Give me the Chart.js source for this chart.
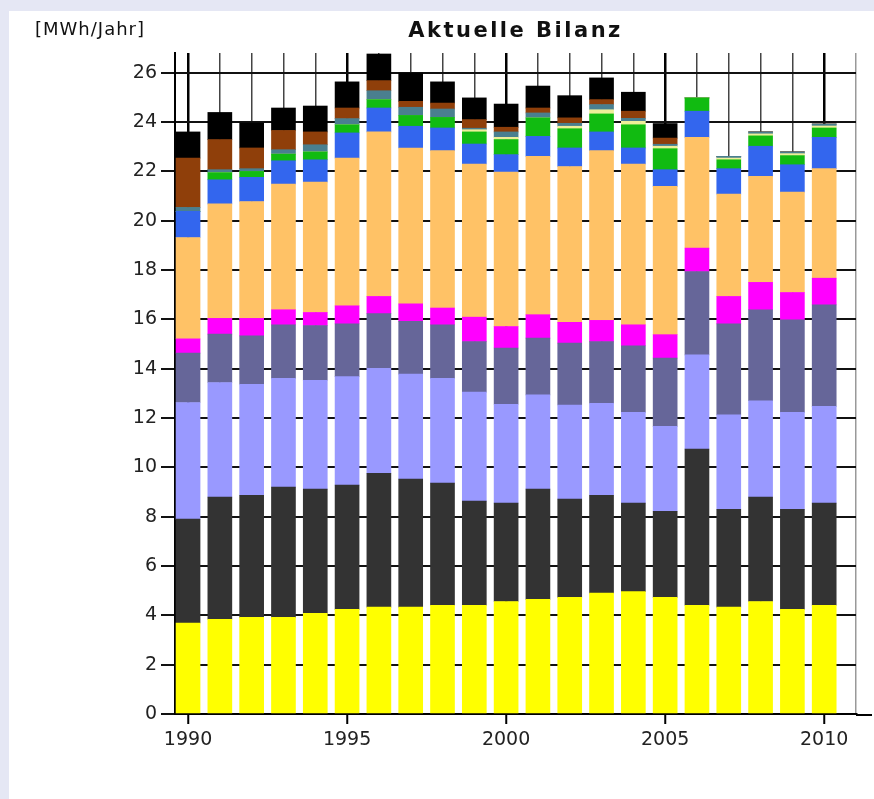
<!DOCTYPE html>
<html lang="de">
<head>
<meta charset="UTF-8">
<title>Aktuelle Bilanz</title>
<script src="https://cdn.jsdelivr.net/npm/chart.js"></script>
<style>
  body { margin: 0; background: #e5e7f4; }
  #panel { position: absolute; left: 9px; top: 11px; width: 865px; height: 788px; background: #fff; }
  canvas { display: block; }
</style>
</head>
<body>
<div id="panel"><canvas id="bilanz" width="865" height="788"></canvas></div>

<script>
  // Jahre und Werte in MWh/Jahr, von unten nach oben gestapelt
  const jahre = [1990, 1991, 1992, 1993, 1994, 1995, 1996, 1997, 1998, 1999, 2000,
                 2001, 2002, 2003, 2004, 2005, 2006, 2007, 2008, 2009, 2010];
  const yTicks = [0, 2, 4, 6, 8, 10, 12, 14, 16, 18, 20, 22, 24, 26];

  const gelb       = [3.69, 3.84, 3.92, 3.92, 4.08, 4.24, 4.33, 4.33, 4.41, 4.41, 4.56, 4.65, 4.73, 4.90, 4.96, 4.73, 4.41, 4.33, 4.56, 4.24, 4.41];
  const dunkelgrau = [4.21, 4.95, 4.95, 5.28, 5.04, 5.04, 5.43, 5.19, 4.95, 4.22, 3.99, 4.47, 3.98, 3.97, 3.59, 3.49, 6.33, 3.97, 4.23, 4.06, 4.14];
  const hellviolett= [4.73, 4.65, 4.50, 4.41, 4.41, 4.40, 4.26, 4.26, 4.25, 4.42, 4.01, 3.82, 3.82, 3.73, 3.68, 3.44, 3.82, 3.83, 3.91, 3.93, 3.92];
  const schiefer   = [2.00, 1.96, 1.96, 2.17, 2.22, 2.14, 2.21, 2.14, 2.17, 2.05, 2.28, 2.30, 2.51, 2.50, 2.70, 2.77, 3.38, 3.69, 3.69, 3.75, 4.12];
  const magenta    = [0.58, 0.64, 0.71, 0.61, 0.53, 0.73, 0.70, 0.71, 0.68, 0.99, 0.87, 0.95, 0.84, 0.86, 0.85, 0.95, 0.95, 1.11, 1.11, 1.11, 1.08];
  const orange     = [4.11, 4.64, 4.74, 5.10, 5.29, 5.99, 6.67, 6.32, 6.38, 6.21, 6.26, 6.42, 6.32, 6.88, 6.52, 6.01, 4.49, 4.15, 4.30, 4.07, 4.44];
  const blau       = [1.06, 0.98, 0.98, 0.94, 0.90, 1.02, 0.97, 0.88, 0.92, 0.81, 0.71, 0.81, 0.75, 0.76, 0.65, 0.68, 1.06, 1.03, 1.22, 1.11, 1.27];
  const gruen      = [0.00, 0.29, 0.24, 0.27, 0.32, 0.33, 0.34, 0.44, 0.43, 0.49, 0.61, 0.75, 0.78, 0.73, 0.94, 0.85, 0.54, 0.36, 0.42, 0.37, 0.38];
  const hellgelb   = [0, 0, 0, 0, 0, 0, 0, 0, 0, 0.09, 0.09, 0, 0.10, 0.17, 0.14, 0.10, 0, 0.07, 0.08, 0.08, 0.08];
  const petrol     = [0.16, 0.12, 0.11, 0.18, 0.29, 0.25, 0.36, 0.33, 0.34, 0.06, 0.22, 0.20, 0.12, 0.21, 0.12, 0.08, 0, 0.07, 0.08, 0.07, 0.08];
  const braun      = [2.00, 1.22, 0.84, 0.78, 0.52, 0.43, 0.41, 0.24, 0.24, 0.35, 0.19, 0.20, 0.22, 0.20, 0.29, 0.25, 0, 0, 0, 0, 0];
  const schwarz    = [1.06, 1.10, 1.01, 0.91, 1.05, 1.06, 1.08, 1.15, 0.86, 0.88, 0.94, 0.89, 0.90, 0.88, 0.77, 0.59, 0, 0, 0, 0, 0];

  const reihen = [
    [gelb, '#ffff00'], [dunkelgrau, '#333333'], [hellviolett, '#9999ff'], [schiefer, '#666699'],
    [magenta, '#ff00ff'], [orange, '#ffc266'], [blau, '#3366ee'], [gruen, '#11bb11'],
    [hellgelb, '#eeee99'], [petrol, '#4a7f8f'], [braun, '#8f3f0a'], [schwarz, '#000000']
  ];

  const schrift = { family: '"DejaVu Sans", Verdana, sans-serif', size: 19 };

  const beschriftung = {
    id: 'beschriftung',
    afterDraw(chart) {
      const { ctx, chartArea } = chart;
      ctx.save();
      ctx.fillStyle = '#111';
      ctx.textBaseline = 'middle';
      ctx.font = 'bold 21px "DejaVu Sans"';
      ctx.textAlign = 'center';
      ctx.letterSpacing = '2.5px';
      ctx.fillText('Aktuelle Bilanz', (chartArea.left + chartArea.right) / 2, 21);
      ctx.letterSpacing = '1px';
      ctx.font = '18px "DejaVu Sans"';
      ctx.textAlign = 'left';
      ctx.fillText('[MWh/Jahr]', 26, 19);
      // x-Achse läuft rechts etwas über den Plotbereich hinaus
      ctx.strokeStyle = '#000';
      ctx.lineWidth = 2;
      ctx.beginPath();
      ctx.moveTo(chartArea.right, chartArea.bottom + 1);
      ctx.lineTo(chartArea.right + 16, chartArea.bottom + 1);
      ctx.stroke();
      ctx.restore();
    }
  };

  const ctx = document.getElementById('bilanz').getContext('2d');
  new Chart(ctx, {
    type: 'bar',
    data: {
      datasets: reihen.map(([werte, farbe], i) => ({
        label: 'Reihe ' + (i + 1),
        data: jahre.map((j, k) => ({ x: j, y: werte[k] })),
        backgroundColor: farbe,
        borderWidth: 0,
        barThickness: 24
      }))
    },
    options: {
      responsive: false,
      animation: false,
      devicePixelRatio: 1,
      layout: { padding: { top: 42, right: 18, left: 0, bottom: 0 } },
      plugins: { legend: { display: false }, tooltip: { enabled: false } },
      scales: {
        x: {
          type: 'linear',
          stacked: true,
          offset: false,
          min: 1989.59,
          max: 2011,
          afterBuildTicks: s => { s.ticks = jahre.concat([2011]).map(v => ({ value: v })); },
          afterFit: s => { s.height = 85; },
          border: { color: '#000', width: 2 },
          grid: {
            offset: false,
            color: c => c.tick.value === 2011 ? '#999' : (c.tick.value % 5 === 0 ? '#000' : '#444'),
            lineWidth: c => c.tick.value % 5 === 0 ? 2.5 : 1.5,
            tickLength: 10,
            tickWidth: 2,
            tickColor: c => c.tick.value % 5 === 0 && c.tick.value !== 2011 ? '#000' : 'rgba(0,0,0,0)'
          },
          ticks: {
            autoSkip: false,
            maxRotation: 0,
            padding: 5,
            color: '#222',
            font: schrift,
            callback: v => (v % 5 === 0 && v !== 2011) ? String(v) : ''
          }
        },
        y: {
          stacked: true,
          min: 0,
          max: 26.8,
          afterBuildTicks: s => { s.ticks = yTicks.map(v => ({ value: v })); },
          afterFit: s => { s.width = 166; },
          border: { color: '#000', width: 2 },
          grid: { color: '#111', lineWidth: 2, tickLength: 14, tickWidth: 2, tickColor: '#111' },
          ticks: { padding: 4, color: '#222', font: schrift }
        }
      }
    },
    plugins: [beschriftung]
  });
</script>
</body>
</html>
